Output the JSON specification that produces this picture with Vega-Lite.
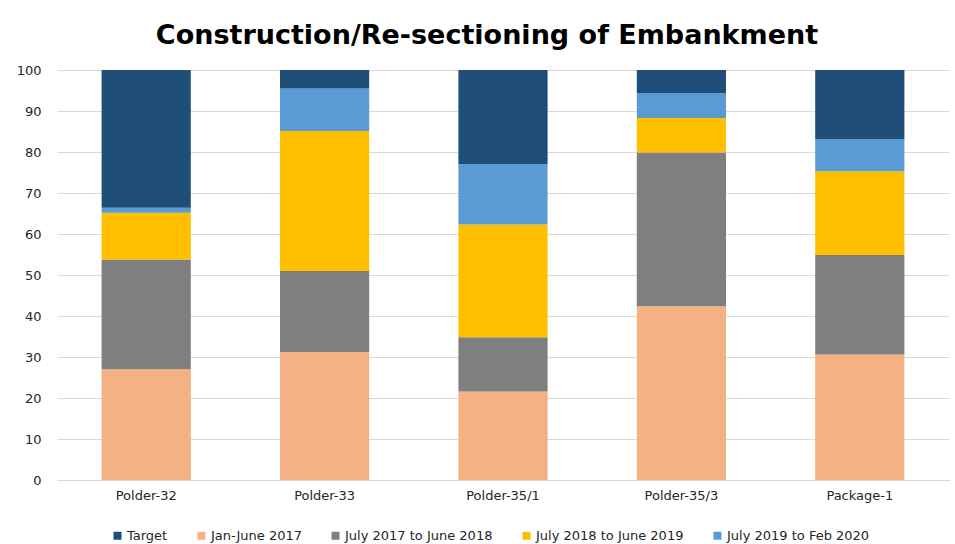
{
  "$schema": "https://vega.github.io/schema/vega-lite/v6.json",
  "width": 892,
  "height": 410,
  "autosize": {"type": "none"},
  "padding": {"left": 57, "top": 70, "right": 6, "bottom": 64},
  "background": "white",
  "title": {
    "text": "Construction/Re-sectioning of Embankment",
    "font": "DejaVu Sans",
    "fontSize": 27,
    "fontWeight": "bold",
    "color": "#000000",
    "anchor": "middle",
    "offset": 14,
    "dx": -16
  },
  "data": {
    "values": [
      {"site": "Polder-32", "period": "Jan-June 2017", "value": 27.0},
      {"site": "Polder-32", "period": "July 2017 to June 2018", "value": 26.8},
      {"site": "Polder-32", "period": "July 2018 to June 2019", "value": 11.4},
      {"site": "Polder-32", "period": "July 2019 to Feb 2020", "value": 1.2},
      {"site": "Polder-32", "period": "Target", "value": 33.6},
      {"site": "Polder-33", "period": "Jan-June 2017", "value": 31.2},
      {"site": "Polder-33", "period": "July 2017 to June 2018", "value": 19.8},
      {"site": "Polder-33", "period": "July 2018 to June 2019", "value": 34.1},
      {"site": "Polder-33", "period": "July 2019 to Feb 2020", "value": 10.4},
      {"site": "Polder-33", "period": "Target", "value": 4.5},
      {"site": "Polder-35/1", "period": "Jan-June 2017", "value": 21.6},
      {"site": "Polder-35/1", "period": "July 2017 to June 2018", "value": 13.2},
      {"site": "Polder-35/1", "period": "July 2018 to June 2019", "value": 27.5},
      {"site": "Polder-35/1", "period": "July 2019 to Feb 2020", "value": 14.7},
      {"site": "Polder-35/1", "period": "Target", "value": 23.0},
      {"site": "Polder-35/3", "period": "Jan-June 2017", "value": 42.4},
      {"site": "Polder-35/3", "period": "July 2017 to June 2018", "value": 37.5},
      {"site": "Polder-35/3", "period": "July 2018 to June 2019", "value": 8.4},
      {"site": "Polder-35/3", "period": "July 2019 to Feb 2020", "value": 6.0},
      {"site": "Polder-35/3", "period": "Target", "value": 5.7},
      {"site": "Package-1", "period": "Jan-June 2017", "value": 30.6},
      {"site": "Package-1", "period": "July 2017 to June 2018", "value": 24.3},
      {"site": "Package-1", "period": "July 2018 to June 2019", "value": 20.4},
      {"site": "Package-1", "period": "July 2019 to Feb 2020", "value": 7.9},
      {"site": "Package-1", "period": "Target", "value": 16.8}
    ]
  },
  "mark": {"type": "bar"},
  "encoding": {
    "x": {
      "field": "site",
      "type": "nominal",
      "sort": ["Polder-32", "Polder-33", "Polder-35/1", "Polder-35/3", "Package-1"],
      "scale": {"paddingInner": 0.5, "paddingOuter": 0.25},
      "axis": {
        "title": null,
        "labelAngle": 0,
        "labelFont": "DejaVu Sans",
        "labelFontSize": 13,
        "labelColor": "#262626",
        "labelPadding": 9,
        "ticks": false,
        "domainColor": "#D9D9D9",
        "domainWidth": 1
      }
    },
    "y": {
      "field": "value",
      "type": "quantitative",
      "stack": "zero",
      "scale": {"domain": [0, 100], "nice": false},
      "axis": {
        "title": null,
        "values": [0, 10, 20, 30, 40, 50, 60, 70, 80, 90, 100],
        "labelFont": "DejaVu Sans",
        "labelFontSize": 13,
        "labelColor": "#262626",
        "labelPadding": 16,
        "ticks": false,
        "domain": false,
        "gridColor": "#D9D9D9",
        "gridWidth": 1
      }
    },
    "color": {
      "field": "period",
      "type": "nominal",
      "scale": {
        "domain": ["Target", "Jan-June 2017", "July 2017 to June 2018", "July 2018 to June 2019", "July 2019 to Feb 2020"],
        "range": ["#1F4E79", "#F4B183", "#7F7F7F", "#FFC000", "#5B9BD5"]
      },
      "legend": {
        "title": null,
        "orient": "none",
        "direction": "horizontal",
        "legendX": 54,
        "legendY": 459,
        "symbolType": "square",
        "symbolSize": 64,
        "symbolStrokeWidth": 0,
        "labelFont": "DejaVu Sans",
        "labelFontSize": 13,
        "labelColor": "#262626",
        "labelOffset": 3,
        "columnPadding": 27
      }
    },
    "order": {"field": "period", "sort": "ascending"}
  },
  "config": {"view": {"stroke": null}}
}
